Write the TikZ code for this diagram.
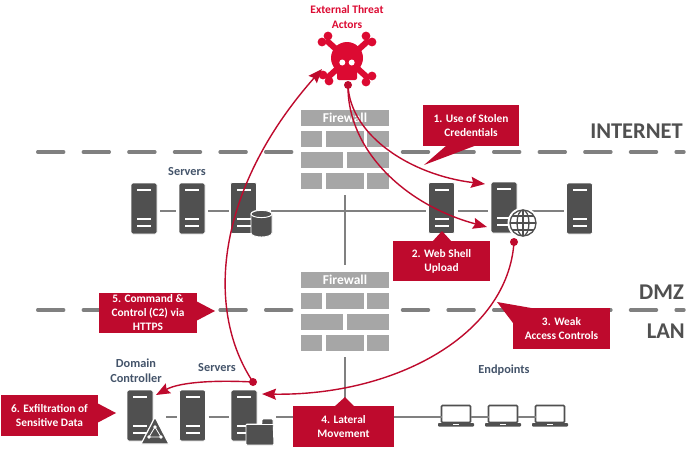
\documentclass[tikz,border=0pt]{standalone}
\usepackage{fontspec}
\setmainfont{Carlito}
\usetikzlibrary{arrows.meta,calc}
\definecolor{iconColor}{RGB}{80,80,80}
\definecolor{brickColor}{RGB}{166,166,166}
\definecolor{lineColor}{RGB}{128,128,128}
\definecolor{redColor}{RGB}{190,10,45}
\definecolor{skullColor}{RGB}{220,10,50}
\definecolor{labelColor}{RGB}{68,84,106}
\tikzset{
  serverbox/.style={draw=white,line width=0.8pt,fill=iconColor,rounded corners=2pt,minimum width=26pt,minimum height=51pt,inner sep=0pt,outer sep=0pt},
  brick/.style={fill=brickColor,inner sep=0pt,outer sep=0pt,minimum height=16pt,font=\bfseries\fontsize{13.5}{15}\selectfont,text=white},
  zoneline/.style={draw=lineColor,line width=3.4pt,line cap=round,dash pattern=on 26pt off 19.6pt},
  zonelabel/.style={text=iconColor,font=\bfseries\fontsize{22.5}{24}\selectfont,inner sep=0pt},
  link/.style={draw=lineColor,line width=1.3pt},
  curve/.style={draw=redColor,line width=1.4pt},
  arrowcurve/.style={curve,-{Stealth[length=14pt,width=11pt,inset=2pt]}},
  reddot/.style={circle,fill=redColor,inner sep=0pt,minimum size=8pt},
  callout/.style={fill=redColor,text=white,align=center,inner sep=0pt,font=\bfseries\fontsize{11.4}{14}\selectfont},
  caption/.style={text=labelColor,align=center,inner sep=0pt,font=\bfseries\fontsize{12.3}{15}\selectfont},
  laptop/.style={draw=iconColor,line width=1.6pt,fill=white,rounded corners=1pt,minimum width=29pt,minimum height=17pt,inner sep=0pt,outer sep=0pt},
}
\newcommand{\putserver}[3]{%
  \node[serverbox] (#1) at (#2,#3) {};
  \foreach \bary in {7,36,43}
    \fill[white] ([shift={(-7,\bary-1)}]#1.north) rectangle ([shift={(7,\bary+1)}]#1.north);
}
\newcommand{\putwall}[2]{%
  \fill[white] (295,#2) rectangle (395,#2+80);
  \node[brick,minimum width=88pt] (#1a) at (345,#2+8) {Firewall};
  \node[brick,minimum width=21.5pt] (#1b) at (311.5,#2+29) {};
  \node[brick,minimum width=38pt] (#1c) at (345,#2+29) {};
  \node[brick,minimum width=21.5pt] (#1d) at (378.2,#2+29) {};
  \node[brick,minimum width=42pt] (#1e) at (321.7,#2+50) {};
  \node[brick,minimum width=42pt] (#1f) at (368,#2+50) {};
  \node[brick,minimum width=21.5pt] (#1g) at (311.5,#2+71) {};
  \node[brick,minimum width=38pt] (#1h) at (345,#2+71) {};
  \node[brick,minimum width=21.5pt] (#1i) at (378.2,#2+71) {};
}
\newcommand{\putlaptop}[2]{%
  \node[laptop] (#1) at (#2,414) {};
  \fill[iconColor,rounded corners=0.8pt] (#2-18,423) rectangle (#2+18,426.5);
  \fill[white] (#2-3,423.8) rectangle (#2+3,425);
}
\begin{document}
\begin{tikzpicture}[x=1pt,y=-1pt]
\path[use as bounding box,fill=white] (0,0) rectangle (698,455);

% zones
\draw[zoneline] (37.7,152) -- (684,152);
\draw[zoneline] (37.7,310) -- (684,310);
\node[zonelabel,anchor=east] (internetLabel) at (683,131) {INTERNET};
\node[zonelabel,anchor=east] (dmzLabel) at (684,292) {DMZ};
\node[zonelabel,anchor=east] (lanLabel) at (685,331) {LAN};

% firewalls
\putwall{wallTop}{110}
\putwall{wallLow}{272}

% dmz servers
\putserver{srvA}{144}{208.5}
\putserver{srvB}{192}{208.5}
\putserver{srvC}{243.5}{208}
\putserver{srvD}{441.5}{208}
\putserver{srvE}{504}{207.5}
\putserver{srvF}{579.5}{208.5}

% lan servers
\putserver{srvG}{140}{415.5}
\putserver{srvH}{192.5}{415.5}
\putserver{srvI}{244}{415.5}

% laptops
\putlaptop{lapA}{456}
\putlaptop{lapB}{503}
\putlaptop{lapC}{550}

\coordinate (busTop) at (0,211);
\coordinate (busLow) at (0,417);
\coordinate (wallTopEnd) at (345,195);
\coordinate (wallMidEnd) at (345,265);
\coordinate (wallLowEnd) at (345,357);

\draw[link,shorten <=3pt,shorten >=3pt] (srvA.east |- busTop) -- (srvB.west |- busTop);
\draw[link,shorten <=3pt,shorten >=2pt] (srvB.east |- busTop) -- (srvC.west |- busTop);
\draw[link] (271,211) -- (426,211);
\draw[link,shorten <=3pt,shorten >=3pt] (srvD.east |- busTop) -- (srvE.west |- busTop);
\draw[link] (532,211) -- (564,211);
\draw[link] (wallTopEnd) -- (wallMidEnd);
\draw[link,shorten <=13pt,shorten >=3pt] (srvG.east |- busLow) -- (srvH.west |- busLow);
\draw[link,shorten <=3pt,shorten >=2pt] (srvH.east |- busLow) -- (srvI.west |- busLow);
\draw[link] (276,417) -- (lapA.west |- busLow);
\draw[link] (lapA.east |- busLow) -- (lapB.west |- busLow);
\draw[link] (lapB.east |- busLow) -- (lapC.west |- busLow);
\draw[link] (wallLowEnd) -- (345,400);

% database
\path[draw=white,line width=0.9pt,fill=iconColor] (251,214) -- (251,233) arc[start angle=180,end angle=360,x radius=10.5,y radius=-4] -- (272,214) arc[start angle=0,end angle=180,x radius=10.5,y radius=-4] -- cycle;
\path[draw=white,line width=0.9pt,fill=iconColor] (261.5,214) ellipse[x radius=10.5,y radius=3.6];

% globe
\fill[white] (523,223) circle[radius=15.5];
\begin{scope}[draw=iconColor,line width=1.3pt]
\draw (523,223) circle[radius=13];
\draw (523,223) ellipse[x radius=6,y radius=13];
\draw (523,210) -- (523,236);
\draw (510,223) -- (536,223);
\draw (512,216) -- (534,216);
\draw (512,230) -- (534,230);
\end{scope}

% folder
\path[draw=white,line width=0.9pt,fill=iconColor,rounded corners=1pt] (246,424) -- (262,424) -- (262,419) -- (273,419) -- (274,445) -- (246,445) -- cycle;
\draw[white,line width=0.9pt] (246,424) -- (274,424);

% triangle
\path[fill=iconColor,draw=white,line width=1.2pt,line join=round] (155,417) -- (169,444) -- (141,444) -- cycle;
\path[draw=white,line width=0.8pt] (155,427) -- (149,437) -- (161,437) -- cycle;
\foreach \dotx/\doty in {155/427,149/437,161/437}
  \fill[white] (\dotx,\doty) circle[radius=1.8];

% skull
\begin{scope}[skullColor]
\draw[line width=6pt] (326,40) -- (369,79);
\draw[line width=6pt] (369,40) -- (326,79);
\foreach \lobex/\lobey in {328/36,322/42,366/36,372/42,323/75,329/81,372/76,366/82}
  \fill (\lobex,\lobey) circle[radius=4.4];
\fill (347,58) circle[radius=16];
\fill[rounded corners=2pt] (337,68) rectangle (357,80);
\fill[white] (342.3,62.5) circle[radius=3];
\fill[white] (351.7,62.5) circle[radius=3];
\end{scope}

% attack paths
\node[reddot] (dotSkull) at (348,85) {};
\node[reddot] (dotGlobe) at (514,242) {};
\node[reddot] (dotServer) at (253,382) {};
\coordinate (endSkull) at (322,69);
\coordinate (endSrvE) at (485,184);
\coordinate (endShell) at (487,227);
\coordinate (endSrvI) at (262,394);
\coordinate (endSrvG) at (156,395);

\draw[arrowcurve] (dotSkull.center) .. controls (350,135) and (410,175) .. (endSrvE);
\draw[arrowcurve] (dotSkull.center) .. controls (347,150) and (405,205) .. (endShell);
\draw[arrowcurve] (dotGlobe.center) .. controls (508,335) and (395,396) .. (endSrvI);
\draw[arrowcurve] (dotServer.center) .. controls (205,310) and (215,190) .. (endSkull);
\draw[arrowcurve] (dotServer.center) .. controls (215,380) and (180,382) .. (endSrvG);

% callouts
\node[callout,minimum width=96pt,minimum height=41pt] (stepOne) at (471,125.5) {1. Use of Stolen\\Credentials};
\fill[redColor] (447,145) -- (424,165) -- (477,145) -- cycle;
\node[callout,minimum width=97pt,minimum height=40pt] (stepTwo) at (441.5,261) {2. Web Shell\\Upload};
\fill[redColor] (432,242) -- (442,231) -- (452,242) -- cycle;
\node[callout,minimum width=97pt,minimum height=41pt] (stepThree) at (561.5,328.5) {3. Weak\\Access Controls};
\fill[redColor] (537,309) -- (497,302) -- (513,323) -- cycle;
\node[callout,minimum width=101pt,minimum height=41pt] (stepFour) at (343.5,426.5) {4. Lateral\\Movement};
\fill[redColor] (334,407) -- (345,397) -- (355,407) -- cycle;
\node[callout,minimum width=98pt,minimum height=40pt] (stepFive) at (148,313) {5. Command \&\\Control (C2) via\\HTTPS};
\fill[redColor] (196,301) -- (215,311) -- (196,321) -- cycle;
\node[callout,minimum width=97pt,minimum height=41pt] (stepSix) at (49.5,415.5) {6. Exfiltration of\\Sensitive Data};
\fill[redColor] (97,403) -- (116,413) -- (97,423) -- cycle;

% captions
\node[caption,text=skullColor,font=\bfseries\fontsize{11.5}{15}\selectfont] (actorLabel) at (347,17.5) {External Threat\\Actors};
\node[caption] (serversTop) at (187,172) {Servers};
\node[caption] (domainLabel) at (136,370.5) {Domain\\Controller};
\node[caption] (serversLow) at (217,368) {Servers};
\node[caption] (endpointLabel) at (504,370) {Endpoints};
\end{tikzpicture}
\end{document}
